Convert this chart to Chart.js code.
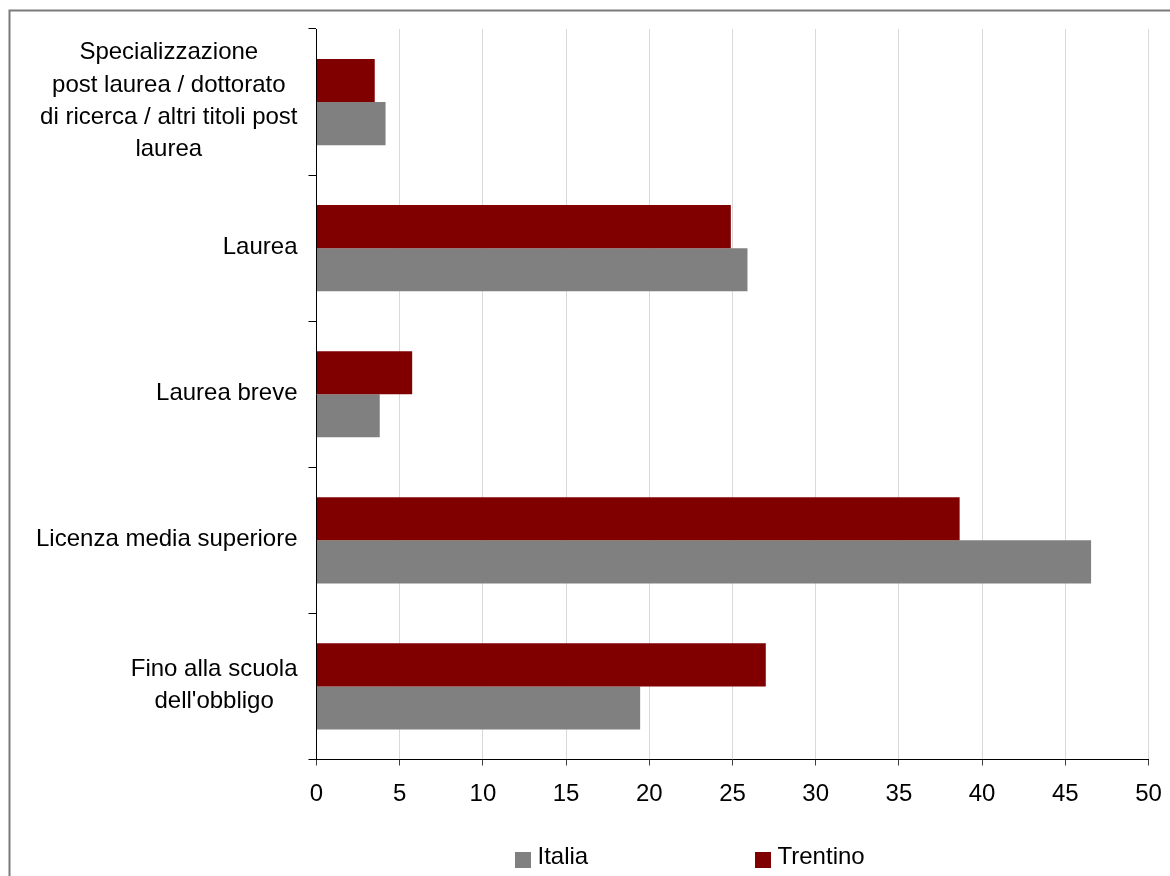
<!DOCTYPE html>
<html lang="it">
<head>
<meta charset="utf-8">
<title>Titolo di studio - Italia e Trentino</title>
<script src="https://cdn.jsdelivr.net/npm/chart.js@4/dist/chart.umd.min.js"></script>
<style>
  html, body { margin: 0; padding: 0; background: #ffffff; overflow: hidden; }
  canvas { display: block; }
</style>
</head>
<body>
<canvas id="grafico" width="1170" height="876"></canvas>
<script>
// Categories (each entry is the list of lines of the axis label)
const categorie = [
  ["Specializzazione", "post laurea / dottorato", "di ricerca / altri titoli post", "laurea"],
  ["Laurea"],
  ["Laurea breve"],
  ["Licenza media superiore"],
  ["Fino alla scuola", "dell'obbligo"]
];

// Percent values per category
const valoriTrentino = [3.5, 24.9, 5.75, 38.65, 27.0];
const valoriItalia = [4.15, 25.9, 3.8, 46.55, 19.45];

// Value axis ticks
const tickAsseX = [0, 5, 10, 15, 20, 25, 30, 35, 40, 45, 50];

const FONT = '"Liberation Sans", Arial, sans-serif';
const FONT_SIZE = 24;

// White background and the grey frame around the chart
const cornice = {
  id: 'cornice',
  beforeDraw(chart) {
    const ctx = chart.ctx;
    ctx.save();
    ctx.fillStyle = '#ffffff';
    ctx.fillRect(0, 0, chart.width, chart.height);
    ctx.strokeStyle = '#7a7a7a';
    ctx.lineWidth = 2;
    ctx.beginPath();
    ctx.moveTo(9.5, chart.height + 5);
    ctx.lineTo(9.5, 10.5);
    ctx.lineTo(chart.width + 5, 10.5);
    ctx.stroke();
    ctx.restore();
  }
};

// Category labels: each block right-aligned to the axis, lines centred within the block
const etichetteCategorie = {
  id: 'etichetteCategorie',
  afterDraw(chart) {
    const ctx = chart.ctx;
    const scala = chart.scales.y;
    const destra = scala.right - 19;
    const interlinea = 32.2;
    ctx.save();
    ctx.font = FONT_SIZE + 'px ' + FONT;
    ctx.fillStyle = '#000000';
    ctx.textAlign = 'center';
    ctx.textBaseline = 'middle';
    chart.data.labels.forEach((righe, i) => {
      const yc = scala.getPixelForValue(i) - 1;
      const larghezza = Math.max(...righe.map(r => ctx.measureText(r).width));
      const xc = destra - larghezza / 2;
      righe.forEach((riga, j) => {
        ctx.fillText(riga, xc, yc + (j - (righe.length - 1) / 2) * interlinea);
      });
    });
    ctx.restore();
  }
};

// Legend below the axis, series listed in reverse order
const legenda = {
  id: 'legenda',
  afterDraw(chart) {
    const ctx = chart.ctx;
    const posizioni = [755, 515];
    ctx.save();
    ctx.font = FONT_SIZE + 'px ' + FONT;
    ctx.textAlign = 'left';
    ctx.textBaseline = 'middle';
    chart.data.datasets.forEach((ds, i) => {
      const x = posizioni[i];
      ctx.fillStyle = ds.backgroundColor;
      ctx.fillRect(x, 852, 16, 16);
      ctx.fillStyle = '#000000';
      ctx.fillText(ds.label, x + 22.5, 857);
    });
    ctx.restore();
  }
};

new Chart(document.getElementById('grafico'), {
  type: 'bar',
  data: {
    labels: categorie,
    datasets: [
      {
        label: 'Trentino',
        data: valoriTrentino,
        backgroundColor: '#800000',
        borderWidth: 0
      },
      {
        label: 'Italia',
        data: valoriItalia,
        backgroundColor: '#808080',
        borderWidth: 0
      }
    ]
  },
  options: {
    indexAxis: 'y',
    responsive: false,
    animation: false,
    devicePixelRatio: 1,
    categoryPercentage: 0.59,
    barPercentage: 1.0,
    layout: {
      padding: { top: 29, right: 21.5, bottom: 66.5, left: 0 }
    },
    plugins: {
      legend: { display: false },
      tooltip: { enabled: false }
    },
    scales: {
      x: {
        type: 'linear',
        min: 0,
        max: 50,
        afterBuildTicks(scale) {
          scale.ticks = tickAsseX.map(v => ({ value: v }));
        },
        afterFit(scale) {
          scale.height = 50;
          scale.paddingLeft = 0;
          scale.paddingRight = 0;
        },
        grid: {
          color: '#d9d9d9',
          tickColor: '#404040',
          lineWidth: 1,
          tickLength: 6,
          drawTicks: true
        },
        border: { display: true, color: '#000000', width: 1 },
        ticks: {
          color: '#000000',
          padding: 14,
          maxRotation: 0,
          font: { family: FONT, size: FONT_SIZE }
        }
      },
      y: {
        type: 'category',
        offset: true,
        afterFit(scale) {
          scale.width = 316.5;
          scale.paddingTop = 0;
          scale.paddingBottom = 0;
        },
        grid: {
          display: true,
          offset: true,
          drawOnChartArea: false,
          drawTicks: true,
          tickLength: 8,
          color: '#000000',
          tickColor: '#000000'
        },
        border: { display: true, color: '#000000', width: 1 },
        ticks: { display: false }
      }
    }
  },
  plugins: [cornice, etichetteCategorie, legenda]
});
</script>
</body>
</html>
